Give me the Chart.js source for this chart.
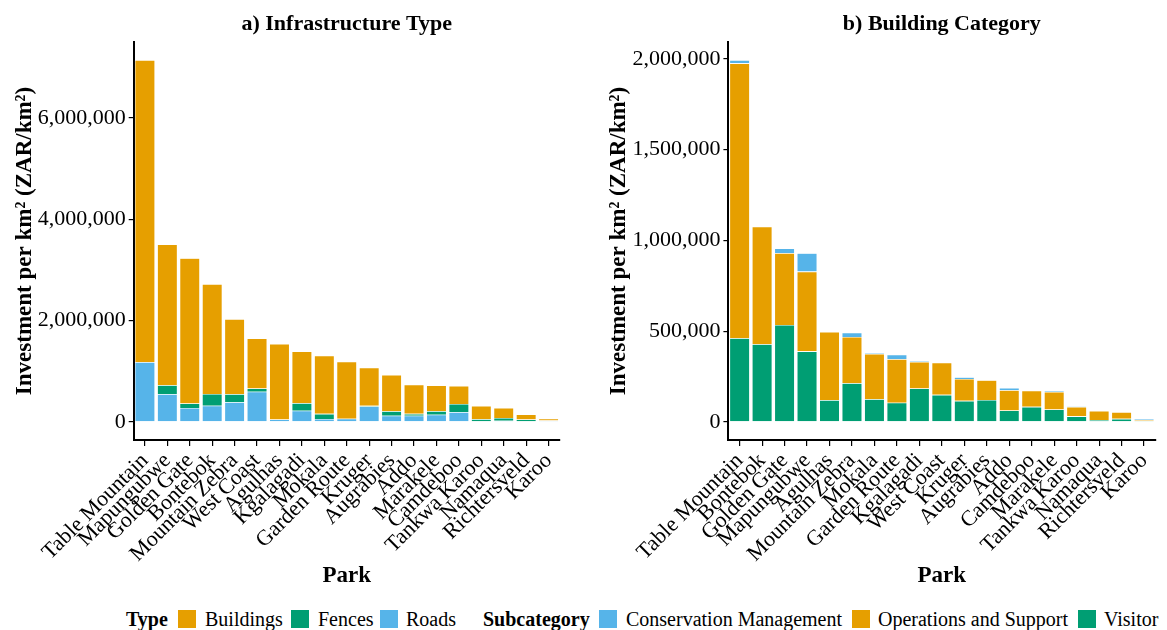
<!DOCTYPE html>
<html>
<head>
<meta charset="utf-8">
<script src="https://cdn.jsdelivr.net/npm/chart.js@4.4.1/dist/chart.umd.min.js"></script>
<style>
  body { margin: 0; width: 1167px; height: 630px; background: #fff; position: relative; overflow: hidden;
         font-family: 'Liberation Serif', 'Times New Roman', serif; color: #000; }
  .panel { position: absolute; top: 0; height: 600px; }
  #legend { position: absolute; left: 0; top: 607px; width: 1167px; height: 24px; font-size: 20px; }
  #legend span { position: absolute; top: 0; line-height: 24px; white-space: nowrap; }
  #legend .key { width: 18px; height: 18px; top: 3px; }
  #legend b { font-weight: bold; }
</style>
</head>
<body>
<div class="panel" style="left:0; width:580px;"><canvas id="chartA"></canvas></div>
<div class="panel" style="left:590px; width:577px;"><canvas id="chartB"></canvas></div>
<div id="legend"></div>

<script>
// a) infrastructure type, investment per km2 (ZAR/km2)
const parksA = ['Table Mountain', 'Mapungubwe', 'Golden Gate', 'Bontebok', 'Mountain Zebra', 'West Coast',
  'Agulhas', 'Kgalagadi', 'Mokala', 'Garden Route', 'Kruger', 'Augrabies', 'Addo', 'Marakele',
  'Camdeboo', 'Tankwa Karoo', 'Namaqua', 'Richtersveld', 'Karoo'];
const roads = [1180000, 550000, 275000, 320000, 390000, 595000, 50000, 222000, 58000, 62000,
  305000, 122000, 122000, 142000, 195000, 12000, 22000, 12000, 26000];
const fences = [0, 175000, 90000, 232000, 160000, 66000, 0, 150000, 102000, 0,
  13000, 90000, 38000, 72000, 158000, 40000, 55000, 38000, 4000];
const buildings = [5960000, 2780000, 2865000, 2168000, 1480000, 989000, 1490000, 1018000, 1150000, 1128000,
  752000, 714000, 576000, 506000, 356000, 263000, 199000, 100000, 35000];
const ticksA = [0, 2000000, 4000000, 6000000];

// b) building category
const parksB = ['Table Mountain', 'Bontebok', 'Golden Gate', 'Mapungubwe', 'Agulhas', 'Mountain Zebra',
  'Mokala', 'Garden Route', 'Kgalagadi', 'West Coast', 'Kruger', 'Augrabies', 'Addo', 'Camdeboo',
  'Marakele', 'Tankwa Karoo', 'Namaqua', 'Richtersveld', 'Karoo'];
const visitor = [461000, 428000, 534000, 389000, 120000, 213000, 125000, 106000, 184000, 149000,
  116000, 121000, 63000, 83000, 69000, 31000, 11000, 17000, 6000];
const operations = [1514000, 647000, 396000, 439000, 376000, 255000, 250000, 240000, 147000, 178000,
  121000, 109000, 112000, 89000, 96000, 52000, 50000, 37000, 5000];
const conservation = [18000, 0, 26000, 101000, 0, 24000, 6000, 24000, 7000, 0,
  9000, 0, 13000, 0, 5000, 3000, 0, 0, 5000];
const ticksB = [0, 500000, 1000000, 1500000, 2000000];

const colOrange = '#E69F00', colGreen = '#009E73', colBlue = '#56B4E9';
const FONT = "'Liberation Serif', 'Times New Roman', serif";

function totals(...series) {
  return series[0].map((_, i) => series.reduce((s, arr) => s + arr[i], 0));
}

function makeChart(id, title, labels, datasets, yTicks, opts) {
  const top = Math.max(...totals(...datasets.map(d => d.data)));
  return new Chart(document.getElementById(id), {
    type: 'bar',
    data: { labels: labels, datasets: datasets },
    options: {
      responsive: true,
      maintainAspectRatio: false,
      animation: false,
      layout: { padding: { left: 0, right: opts.padRight, top: 0, bottom: 0 } },
      plugins: {
        legend: { display: false },
        tooltip: { enabled: false },
        title: {
          display: true, text: title, fullSize: false, color: '#000',
          font: { family: FONT, size: 22, weight: 'bold' },
          padding: { top: 10.8, bottom: 4.8 }
        }
      },
      datasets: {
        bar: { categoryPercentage: 1, barPercentage: 0.9, borderColor: 'rgba(255,255,255,0.7)', borderWidth: 0.6 }
      },
      scales: {
        x: {
          stacked: true,
          offset: true,
          grid: { display: true, drawOnChartArea: false, drawTicks: true, tickLength: 6, offset: false, color: '#000', lineWidth: 1.2 },
          border: { display: true, color: '#000', width: 2 },
          ticks: { color: '#000', font: { family: FONT, size: 22 }, minRotation: 45, maxRotation: 45, autoSkip: false, padding: 2 },
          title: { display: true, text: 'Park', color: '#000', font: { family: FONT, size: 23, weight: 'bold' }, padding: { top: 0, bottom: 10 } },
          afterFit: s => { s.height = 160; }
        },
        y: {
          stacked: true,
          min: -0.05 * top,
          max: 1.05 * top,
          grid: { display: true, drawOnChartArea: false, drawTicks: true, tickLength: 5, color: '#000', lineWidth: 1.2 },
          border: { display: true, color: '#000', width: 2 },
          ticks: { color: '#000', font: { family: FONT, size: 22 }, padding: 3, callback: v => v.toLocaleString('en-US') },
          afterBuildTicks: s => { s.ticks = yTicks.map(v => ({ value: v })); },
          title: {
            display: true, text: 'Investment per km² (ZAR/km²)', color: '#000',
            font: { family: FONT, size: 23, weight: 'bold' }, padding: { top: opts.yTitlePad, bottom: 0 }
          },
          afterFit: s => { s.width = opts.yWidth; }
        }
      }
    }
  });
}

makeChart('chartA', 'a) Infrastructure Type', parksA, [
  { label: 'Roads', data: roads, backgroundColor: colBlue },
  { label: 'Fences', data: fences, backgroundColor: colGreen },
  { label: 'Buildings', data: buildings, backgroundColor: colOrange }
], ticksA, { padRight: 20.2, yWidth: 133.7, yTitlePad: 11.2 });

makeChart('chartB', 'b) Building Category', parksB, [
  { label: 'Visitor', data: visitor, backgroundColor: colGreen },
  { label: 'Operations and Support', data: operations, backgroundColor: colOrange },
  { label: 'Conservation Management', data: conservation, backgroundColor: colBlue }
], ticksB, { padRight: 11.7, yWidth: 138.4, yTitlePad: 15.2 });

// shared legend along the bottom
const legendItems = [
  { title: 'Type', x: 126 },
  { key: colOrange, x: 178 }, { text: 'Buildings', x: 205 },
  { key: colGreen, x: 291 }, { text: 'Fences', x: 318 },
  { key: colBlue, x: 380 }, { text: 'Roads', x: 406 },
  { title: 'Subcategory', x: 483 },
  { key: colBlue, x: 599 }, { text: 'Conservation Management', x: 626 },
  { key: colOrange, x: 852 }, { text: 'Operations and Support', x: 878 },
  { key: colGreen, x: 1078 }, { text: 'Visitor', x: 1104 }
];
const legend = document.getElementById('legend');
legendItems.forEach(it => {
  const el = document.createElement('span');
  el.style.left = it.x + 'px';
  if (it.key) { el.className = 'key'; el.style.background = it.key; }
  else if (it.title) { el.innerHTML = '<b>' + it.title + '</b>'; }
  else { el.textContent = it.text; }
  legend.appendChild(el);
});
</script>
</body>
</html>
